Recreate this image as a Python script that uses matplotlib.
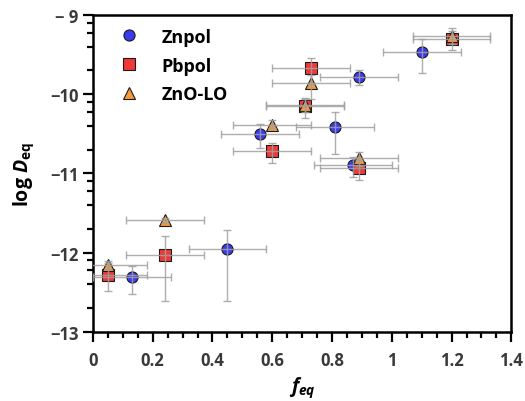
import numpy as np
import matplotlib

matplotlib.use("Agg")
import matplotlib.pyplot as plt
from matplotlib.ticker import FixedLocator

# ===================== Data =====================
zn_f = [0.13, 0.45, 0.56, 0.81, 0.87, 0.89, 1.10]
zn_d = [-12.31, -11.96, -10.50, -10.41, -10.89, -9.78, -9.47]
zn_fe = [0.13, 0.13, 0.13, 0.13, 0.13, 0.13, 0.13]
zn_lo = [0.21, 0.65, 0.18, 0.34, 0.15, 0.10, 0.26]
zn_hi = [0.14, 0.25, 0.12, 0.18, 0.10, 0.09, 0.17]

pb_f = [0.05, 0.24, 0.60, 0.71, 0.73, 0.89, 1.20]
pb_d = [-12.28, -12.03, -10.72, -10.15, -9.67, -10.93, -9.30]
pb_fe = [0.13, 0.13, 0.13, 0.13, 0.13, 0.13, 0.13]
pb_lo = [0.21, 0.58, 0.15, 0.15, 0.20, 0.15, 0.14]
pb_hi = [0.15, 0.24, 0.10, 0.09, 0.13, 0.10, 0.10]

lo_f = [0.05, 0.24, 0.60, 0.71, 0.73, 0.89, 1.20]
lo_d = [-12.16, -11.59, -10.39, -10.13, -9.86, -10.81, -9.26]
lo_fe = [0.13, 0.13, 0.13, 0.13, 0.13, 0.13, 0.13]
lo_lo = [0.05, 0.03, 0.04, 0.10, 0.20, 0.10, 0.10]
lo_hi = [0.05, 0.03, 0.07, 0.08, 0.10, 0.08, 0.10]

x_ticks = [0, 0.2, 0.4, 0.6, 0.8, 1, 1.2, 1.4]
x_labels = ["0", "0.2", "0.4", "0.6", "0.8", "1", "1.2", "1.4"]
y_ticks = [-13, -12, -11, -10, -9]
y_labels = ["\u221213", "\u221212", "\u221211", "\u221210", "\u2212 9"]

# ===================== Style =====================
plt.rcParams.update({
    "font.family": ["Open Sans", "DejaVu Sans"],
    "font.weight": "bold",
    "mathtext.fontset": "custom",
    "mathtext.rm": "Open Sans:bold",
    "mathtext.it": "Open Sans:bold:italic",
})

fig = plt.figure(figsize=(5.25, 4.02), dpi=100)
ax = fig.add_axes([0.177, 0.172, 0.797, 0.788])

err_kw = dict(fmt="none", ecolor="#a0a0a0", elinewidth=1.0, capsize=3,
              capthick=1.0, alpha=0.85, zorder=4)

series = [
    (zn_f, zn_d, zn_fe, zn_lo, zn_hi, "o", "#3a3af0", 8.0, "Znpol"),
    (pb_f, pb_d, pb_fe, pb_lo, pb_hi, "s", "#f03a3a", 8.0, "Pbpol"),
    (lo_f, lo_d, lo_fe, lo_lo, lo_hi, "^", "#f39a3c", 8.0, "ZnO-LO"),
]

for f, d, fe, lo, hi, mk, col, ms, lab in series:
    ax.plot(f, d, linestyle="none", marker=mk, markersize=ms,
            markerfacecolor=col, markeredgecolor="#1a1a1a",
            markeredgewidth=0.8, label=lab, zorder=3)
    ax.errorbar(f, d, xerr=fe, yerr=[lo, hi], **err_kw)

# ===================== Axes =====================
ax.set_xlim(0, 1.4)
ax.set_ylim(-13, -9)
ax.set_xticks(x_ticks)
ax.set_xticklabels(x_labels)
ax.set_yticks(y_ticks)
ax.set_yticklabels(y_labels)
ax.xaxis.set_minor_locator(FixedLocator(np.arange(0, 1.41, 0.05)))
ax.yaxis.set_minor_locator(FixedLocator(
    [dec + np.log10(k) for dec in range(-13, -9) for k in (2, 4, 6, 8)]))

ax.tick_params(which="both", direction="out", top=False, right=False,
               width=1.6, colors="black", labelcolor="#3a3a3a",
               labelsize=12)
ax.tick_params(which="major", length=7.5)
ax.tick_params(axis="x", which="major", pad=6)
ax.tick_params(axis="y", which="major", pad=3)
ax.tick_params(which="minor", length=4.5)
for lbl in ax.get_xticklabels() + ax.get_yticklabels():
    lbl.set_fontweight("bold")

for sp in ax.spines.values():
    sp.set_linewidth(1.8)
    sp.set_color("black")

ax.set_xlabel(r"$f_{eq}$", fontsize=14, labelpad=4)
ax.set_ylabel(r"log $D_{\mathrm{eq}}$", fontsize=14, fontweight="bold",
              labelpad=10)

leg = ax.legend(loc="upper left", frameon=False, fontsize=13,
                handletextpad=1.2, labelspacing=0.6, borderaxespad=0.3,
                handlelength=1.2, bbox_to_anchor=(0.03, 1.0))
for t in leg.get_texts():
    t.set_fontweight("bold")

fig.savefig("out.png", dpi=100)
